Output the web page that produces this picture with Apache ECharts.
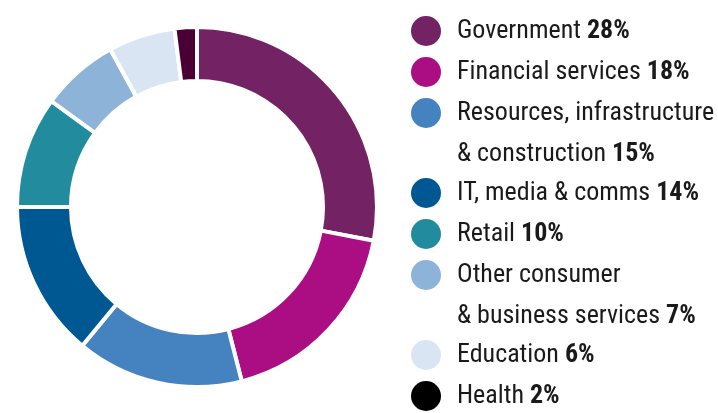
<!DOCTYPE html>
<html>
<head>
<meta charset="utf-8">
<script src="https://cdn.jsdelivr.net/npm/echarts@6/dist/echarts.min.js"></script>
<style>
  html, body { margin: 0; padding: 0; background: #fff; }
  #chart { width: 718px; height: 413px; }
</style>
</head>
<body>
<div id="chart"></div>
<script>
// sectors, clockwise from 12 o'clock
let names = ['Government', 'Financial services', 'Resources, infrastructure\n& construction', 'IT, media & comms', 'Retail', 'Other consumer\n& business services', 'Education', 'Health']
let values = [28, 18, 15, 14, 10, 7, 6, 2]
let colors = ['#732264', '#aa0e82', '#4483bf', '#005893', '#228c9e', '#8eb3d9', '#d9e5f2', '#4b0035']
let dotColors = ['#732264', '#aa0e82', '#4483bf', '#005893', '#228c9e', '#8eb3d9', '#d9e5f2', '#000000']

let font = '"Liberation Sans Narrow", "Roboto Condensed", "DejaVu Sans Condensed", Roboto, sans-serif'
let fs = 26
let lh = 41

let rich = {
  n: { fontSize: fs, fontFamily: font, color: '#1a1a1a', lineHeight: lh },
  p: { fontSize: fs, fontFamily: font, color: '#1a1a1a', fontWeight: 'bold', lineHeight: lh },
  g: { width: 16, lineHeight: lh },
  ind: { width: 46, lineHeight: lh }
}
dotColors.forEach((c, i) => {
  rich['d' + i] = { width: 30, height: 30, borderRadius: 15, backgroundColor: c, lineHeight: lh }
})

let myChart = echarts.init(document.getElementById('chart'))
myChart.setOption({
  animation: false,
  legend: {
    orient: 'vertical',
    left: 405,
    top: 16,
    padding: 0,
    itemGap: 11,
    itemWidth: 0,
    itemHeight: 0,
    selectedMode: false,
    data: names,
    formatter: name => {
      let i = names.indexOf(name)
      let lines = name.split('\n')
      let last = '{n|' + lines[lines.length - 1] + ' }{p|' + values[i] + '%}'
      if (lines.length === 1) return '{d' + i + '|}{g|}' + last
      return '{d' + i + '|}{g|}{n|' + lines[0] + '}\n{ind|}' + last
    },
    textStyle: { rich: rich }
  },
  series: [{
    type: 'pie',
    center: [197, 207],
    radius: [126, 180],
    startAngle: 90,
    clockwise: true,
    label: { show: false },
    labelLine: { show: false },
    emphasis: { disabled: true },
    itemStyle: { borderColor: '#fff', borderWidth: 4 },
    data: names.map((n, i) => ({ name: n, value: values[i], itemStyle: { color: colors[i] } }))
  }]
})
</script>
</body>
</html>
